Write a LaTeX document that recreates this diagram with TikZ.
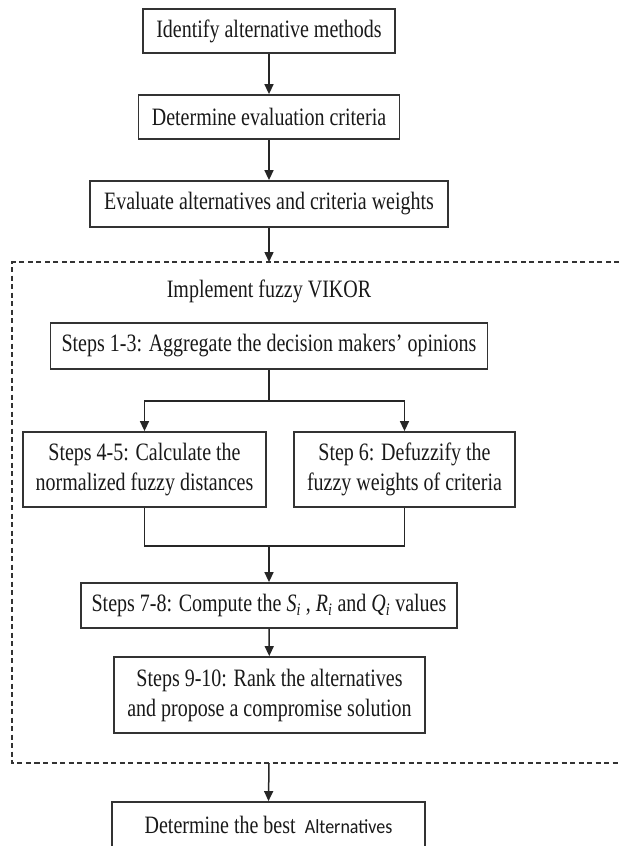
\documentclass[tikz,border=0pt]{standalone}
\usepackage{fontspec}
\setmainfont[FakeStretch=0.8]{Liberation Serif}
\newfontfamily\altfont[FakeStretch=0.9]{Carlito}
\usetikzlibrary{arrows.meta}

\begin{document}
\begin{tikzpicture}[x=1pt,y=-1pt,
    box/.style={draw=black!80,line width=1.8pt,align=center,inner sep=0pt,
      font=\fontsize{25}{30}\selectfont,text=black!90},
    arr/.style={draw=black!85,line width=1.5pt,-{Triangle[width=9pt,length=10pt]}},
    line/.style={draw=black!85,line width=1.5pt}]
  \useasboundingbox (0,0) rectangle (619,846);
  \clip (0,0) rectangle (619,846);
  \fill[white] (0,0) rectangle (619,846);
  % dashed frame round the VIKOR steps (runs off the right edge)
  \draw[black!80,line width=1.6pt,dash pattern=on 5pt off 3.5pt]
    (619,262) -| (12,763) -- (619,763);
  \coordinate (ftop) at (269,262);
  \coordinate (fbot) at (269,763);
  \node[font=\fontsize{25}{30}\selectfont,text=black!90] (title) at (269,291) {Implement fuzzy VIKOR};
  % boxes
  \node[box,minimum width=252pt,minimum height=44pt] (b1) at (269,31) {Identify alternative methods};
  \node[box,minimum width=261pt,minimum height=44pt] (b2) at (269,117) {Determine evaluation criteria};
  \node[box,minimum width=358pt,minimum height=46pt] (b3) at (269,204) {Evaluate alternatives and criteria weights};
  \node[box,minimum width=437pt,minimum height=46pt] (b4) at (269,346) {Steps 1-3: Aggregate the decision makers' opinions};
  \node[box,minimum width=243pt,minimum height=75pt] (b5) at (144.5,469.5) {Steps 4-5: Calculate the\\normalized fuzzy distances};
  \node[box,minimum width=221pt,minimum height=75pt] (b6) at (404.5,469.5) {Step 6: Defuzzify the\\fuzzy weights of criteria};
  \node[box,minimum width=376pt,minimum height=45pt] (b7) at (269,605.5)
    {Steps 7-8: Compute the \textit{S}\textsubscript{\textit{i}} , \textit{R}\textsubscript{\textit{i}} and \textit{Q}\textsubscript{\textit{i}} values};
  \node[box,minimum width=311pt,minimum height=76pt] (b8) at (269.5,695) {Steps 9-10: Rank the alternatives\\and propose a compromise solution};
  \node[box,minimum width=313pt,minimum height=46pt] (b9) at (268.5,825)
    {Determine the best\, {\altfont\fontsize{20}{24}\selectfont Alternatives}};
  % connectors
  \draw[arr] (b1) -- (b2);
  \draw[arr] (b2) -- (b3);
  \draw[arr] (b3.south) -- (ftop);
  \draw[line] (b4.south) -- ++(0,31) coordinate (split);
  \draw[arr] (split) -| (b5.north);
  \draw[arr] (split) -| (b6.north);
  \draw[line] (b5.south) -- ++(0,38) -| (b6.south);
  \coordinate (merge) at (b7.north |- 0,545);
  \draw[arr] (merge) -- (b7.north);
  \draw[arr] (b7) -- (b8);
  \draw[arr] (fbot) -- (b9.north);
\end{tikzpicture}
\end{document}
